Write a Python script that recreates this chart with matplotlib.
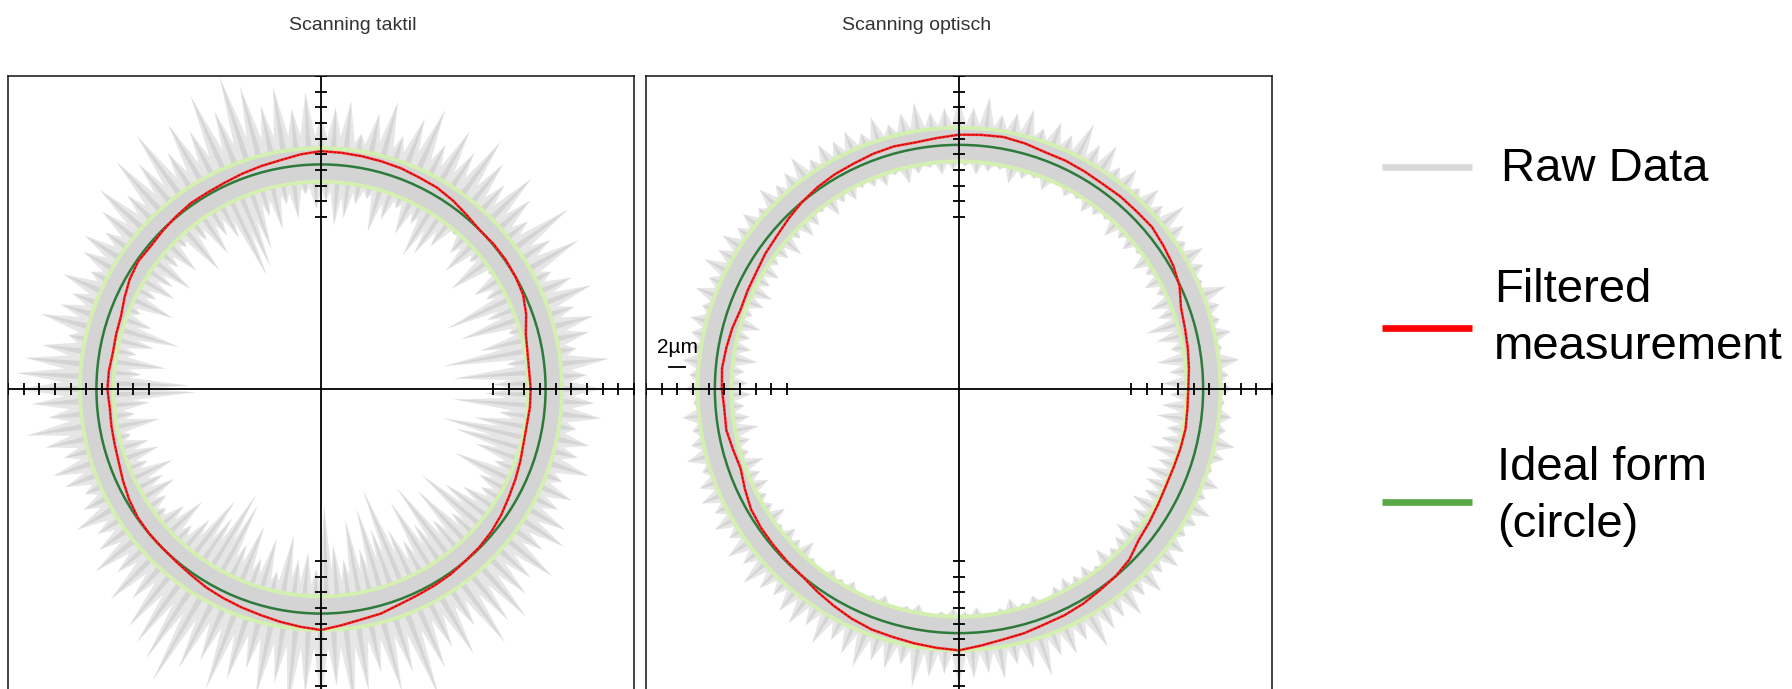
import numpy as np
import matplotlib.pyplot as plt
from matplotlib.patches import Circle, PathPatch
from matplotlib.path import Path

plt.rcParams['font.family'] = ['Liberation Sans', 'DejaVu Sans']

titles = ["Scanning taktil", "Scanning optisch"]
legend_labels = [["Raw Data"], ["Filtered", "measurement"], ["Ideal form", "(circle)"]]

# radii in µm-like units (1 unit = tick spacing / 2)
ideal_r = [28.7, 31.2]
tol_inner = [26.5, 29.1]
tol_outer = [30.8, 33.4]

# raw data, every 3 degrees (0 = east, counter-clockwise): outer and inner spike tips
raw_deg = np.arange(0, 360, 3)
raw_hi_taktil = [36, 34, 37, 33, 35, 36, 34, 37, 35, 33,
                 38, 35, 39, 34, 36, 38, 35, 37, 39, 36,
                 38, 35, 39, 37, 34, 38, 36, 33, 37, 36,
                 35, 38, 36, 39, 37, 40, 42, 38, 41, 37,
                 39, 36, 40, 37, 39, 35, 38, 36, 34, 36,
                 35, 33, 36, 34, 35, 37, 33, 36, 38, 39,
                 39, 37, 35, 38, 36, 34, 36, 35, 33, 34,
                 36, 34, 35, 37, 35, 38, 36, 39, 40, 41,
                 43, 40, 38, 41, 39, 37, 40, 38, 41, 39,
                 40, 38, 41, 39, 37, 40, 38, 42, 39, 37,
                 39, 36, 40, 38, 39, 37, 36, 38, 35, 37,
                 36, 34, 35, 33, 36, 34, 35, 33, 36, 35]
raw_lo_taktil = [22, 17, 24, 16, 21, 25, 19, 23, 18, 24,
                 23, 26, 21, 25, 22, 24, 26, 23, 21, 20,
                 24, 22, 25, 23, 21, 25, 24, 22, 21, 24,
                 23, 25, 22, 24, 21, 23, 19, 17, 16, 22,
                 23, 21, 24, 20, 25, 22, 24, 21, 23, 22,
                 24, 21, 25, 23, 19, 22, 24, 20, 23, 17,
                 16, 22, 24, 21, 25, 23, 22, 24, 21, 23,
                 22, 24, 25, 23, 21, 24, 22, 18, 20, 16,
                 17, 22, 19, 23, 20, 24, 19, 22, 21, 23,
                 15, 20, 22, 17, 21, 16, 19, 14, 20, 22,
                 17, 21, 16, 22, 18, 23, 17, 20, 22, 24,
                 23, 19, 24, 21, 18, 16, 20, 23, 17, 21]
raw_hi_optisch = [35, 34.5, 36, 34, 35.5, 34.5, 35, 36.5, 34, 35,
                  36, 34.5, 35.5, 37, 35, 36, 34.5, 36, 35, 37,
                  36, 38, 35.5, 36.5, 35, 37, 36, 35.5, 37.5, 36,
                  37, 36, 35.5, 37, 36, 35, 36.5, 35, 36, 35.5,
                  36, 35, 36.5, 35.5, 35, 36, 34.5, 35.5, 35, 36,
                  35.5, 36.5, 35, 36, 34.5, 35.5, 35, 34.5, 35.5, 34.5,
                  35, 34, 35.5, 34.5, 35, 36, 34.5, 35.5, 36, 35,
                  36, 35, 36.5, 35.5, 37, 36, 35.5, 36.5, 37, 36,
                  37.5, 36, 37, 38, 36.5, 37, 36, 38.5, 37, 36.5,
                  38, 37, 36.5, 37.5, 36, 37, 38.5, 36.5, 37, 36,
                  38, 36.5, 36, 37, 35.5, 36.5, 35, 36, 35.5, 34.5,
                  35, 36, 34.5, 35.5, 34, 35, 36, 34.5, 35, 34]
raw_lo_optisch = [26, 27, 25.5, 27.5, 26, 25, 27, 26.5, 28, 27,
                  28, 27, 28.5, 27.5, 28, 27, 28.5, 28, 27.5, 28.5,
                  28, 29, 27.5, 28.5, 28, 27, 28.5, 28, 27.5, 28.5,
                  28, 27.5, 28.5, 28, 27, 28.5, 27.5, 28, 28.5, 27.5,
                  28, 27, 28.5, 27.5, 27, 28, 26.5, 27.5, 28, 27,
                  27.5, 26.5, 27, 28, 26.5, 27.5, 27, 26, 27.5, 27,
                  26.5, 27.5, 27, 26, 27.5, 28, 26.5, 27.5, 27, 28,
                  28, 27, 28.5, 27.5, 28, 27, 28.5, 29, 28, 28.5,
                  28, 29, 28.5, 28, 29, 28.5, 28, 29, 28.5, 28,
                  28.5, 28, 29, 28.5, 27.5, 28.5, 28, 29, 28, 27.5,
                  28, 27.5, 28.5, 27, 28, 27.5, 26.5, 27.5, 27, 26,
                  27, 26.5, 26, 27, 25.5, 26.5, 27, 25.5, 26, 27]

# filtered profile, deviation from ideal circle every 5 degrees
filt_deg = np.arange(0, 360, 5)
filt_dev_taktil = [-1.9, -2.0, -1.9, -1.6, -0.8, -0.2, 0.0, 0.1, 0.1, 0.0, 0.3, 0.7,
                   1.0, 1.1, 1.3, 1.4, 1.5, 1.6, 1.7, 1.4, 1.0, 0.8, 0.6, 0.4,
                   0.3, 0.3, 0.1, -0.1, -0.3, -0.2, -0.5, -1.0, -1.5, -1.6, -1.7, -1.5,
                   -1.4, -1.6, -1.5, -1.4, -1.2, -0.8, -0.4, -0.1, 0.0, 0.0, 0.1, 0.3,
                   0.6, 0.8, 1.0, 1.2, 1.5, 1.8, 2.1, 1.6, 1.2, 1.0, 0.6, 0.4,
                   0.3, 0.2, 0.0, -0.1, -0.3, -0.6, -1.0, -1.3, -1.6, -1.9, -2.0, -1.9]
filt_dev_optisch = [-1.9, -1.7, -1.5, -1.3, -1.0, -0.1, 0.4, 0.7, 1.0, 0.9, 0.9, 0.8,
                    0.9, 1.0, 1.0, 1.3, 1.5, 1.4, 1.3, 1.0, 0.8, 0.9, 0.8, 0.6,
                    0.5, 0.3, 0.0, -0.4, -0.8, -1.0, -1.3, -1.4, -1.5, -1.2, -1.0, -0.8,
                    -0.9, -1.1, -1.0, -1.3, -1.5, -1.0, -0.5, -0.3, -0.2, -0.1, 0.0, 0.4,
                    0.8, 1.2, 1.5, 1.6, 1.8, 2.0, 2.2, 1.7, 1.3, 1.1, 0.8, 0.7,
                    0.5, 0.2, 0.0, -0.4, -1.2, -1.5, -1.8, -2.0, -2.0, -1.9, -1.8, -1.9]

tick_pos = np.arange(22, 41, 2)

W, H = 1792, 689
fig = plt.figure(figsize=(W / 100, H / 100), dpi=100)


def add_px_axes(left, top, size):
    return fig.add_axes([left / W, 1 - (top + size) / H, size / W, size / H])


def star(th, tips, base, w):
    n = len(th)
    ang = np.column_stack([th - w, th, th + w]).ravel()
    r = np.column_stack([np.full(n, base), tips, np.full(n, base)]).ravel()
    return np.column_stack([r * np.cos(ang), r * np.sin(ang)])


def raw_ring(ax, hi, lo, r_in, r_out, w_deg, color, z):
    th = np.deg2rad(raw_deg)
    w = np.deg2rad(w_deg)
    outer = star(th, np.array(hi, float), r_out, w)
    inner = star(th + np.deg2rad(1.5), np.array(lo, float), r_in, w)[::-1]
    verts = np.vstack([outer, outer[:1], inner, inner[:1]])
    codes = ([Path.MOVETO] + [Path.LINETO] * (len(outer) - 1) + [Path.CLOSEPOLY]) * 2
    ax.add_patch(PathPatch(Path(verts, codes), fc=color, lw=0, zorder=z))


def draw_panel(ax, R, r_in, r_out, hi, lo, dev, w_wide, w_thin):
    raw_ring(ax, hi, lo, r_in, r_out, w_wide, '#e6e6e6', 1)
    raw_ring(ax, hi, lo, r_in, r_out, w_thin, '#d4d4d4', 1.5)

    for rr in (r_in, r_out):
        ax.add_patch(Circle((0, 0), rr, fill=False, ec='#d3f0b0', lw=2.8, zorder=3))
    ax.add_patch(Circle((0, 0), R, fill=False, ec='#2d7a3a', lw=1.8, zorder=4))

    fa = np.deg2rad(np.append(filt_deg, 360))
    fr = R + np.append(dev, dev[0])
    ax.plot(fr * np.cos(fa), fr * np.sin(fa), color='#ff2020', lw=1.8, zorder=5)
    ax.plot(fr * np.cos(fa), fr * np.sin(fa), color='#700000', lw=0.5,
            dashes=(3, 3), zorder=6)

    # cross hair with tick marks
    ax.axhline(0, color='black', lw=1.3, zorder=7)
    ax.axvline(0, color='black', lw=1.3, zorder=7)
    tx = np.concatenate([-tick_pos, tick_pos])
    ax.plot(tx, np.zeros_like(tx), ls='none', marker='|', ms=9, mew=1.3,
            color='black', zorder=7)
    ax.plot(np.zeros_like(tx), tx, ls='none', marker='_', ms=9, mew=1.3,
            color='black', zorder=7)

    ax.set_xlim(-40, 40)
    ax.set_ylim(-40, 40)
    ax.set_xticks([])
    ax.set_yticks([])
    for s in ax.spines.values():
        s.set_linewidth(1.2)
        s.set_color('#222222')


ax1 = add_px_axes(8, 76, 626)
ax2 = add_px_axes(646, 76, 626)
draw_panel(ax1, ideal_r[0], tol_inner[0], tol_outer[0], raw_hi_taktil, raw_lo_taktil,
           filt_dev_taktil, 2.2, 0.7)
draw_panel(ax2, ideal_r[1], tol_inner[1], tol_outer[1], raw_hi_optisch, raw_lo_optisch,
           filt_dev_optisch, 1.8, 0.5)

# scale bar in the right panel
ax2.plot([-37, -35], [2.8, 2.8], color='black', lw=1.3, zorder=8)
ax2.text(-36.0, 4.6, "2µm", ha='center', va='baseline', fontsize=15, zorder=8)

fig.text(353 / W, 1 - 25 / H, titles[0], ha='center', va='center', fontsize=14, color='#333333')
fig.text(917 / W, 1 - 25 / H, titles[1], ha='center', va='center', fontsize=14, color='#333333')

# legend drawn in pixel coordinates
lg = fig.add_axes([0, 0, 1, 1])
lg.set_xlim(0, W)
lg.set_ylim(H, 0)
lg.axis('off')
leg_colors = ['#d9d9d9', '#ff0000', '#58a845']
leg_line_y = [167, 328, 502]
leg_text_x = [1501, 1494, 1497]
leg_base_y = [[181], [302, 359], [480, 537]]
for col, ly, tx, lines, bys in zip(leg_colors, leg_line_y, leg_text_x, legend_labels, leg_base_y):
    lg.plot([1382, 1472], [ly, ly], color=col, lw=4.8, solid_capstyle='butt')
    for t, by in zip(lines, bys):
        lg.text(tx, by, t, ha='left', va='baseline', fontsize=34, color='black')

fig.savefig('out.png', dpi=100)
